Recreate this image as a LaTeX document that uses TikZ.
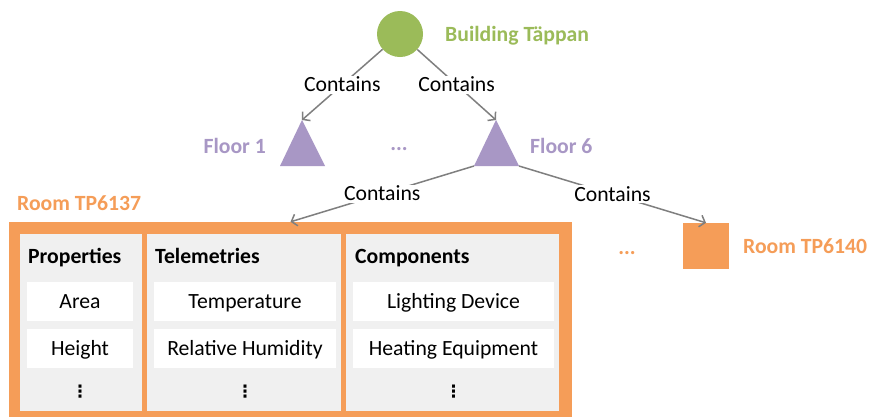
\documentclass[tikz,border=0pt]{standalone}
\usepackage{fontspec}
\setmainfont{Carlito}
\newfontfamily\dejavu{DejaVu Sans}
\usetikzlibrary{arrows.meta}
\definecolor{bgreen}{HTML}{9BBB59}
\definecolor{fpurple}{HTML}{A897C5}
\definecolor{rorange}{HTML}{F59D58}
\definecolor{pgray}{HTML}{F0F0F0}
\definecolor{cgray}{HTML}{7F7F7F}
\tikzset{
  txt/.style={font=\fontsize{21.7}{26}\selectfont, inner sep=0pt, text height=14pt, text depth=0pt},
  lbl/.style={txt, fill=white, inner sep=2pt},
  conn/.style={draw=cgray, line width=1.5pt, -{Straight Barb[length=5pt,width=12pt,line width=1.5pt]}},
  panel/.style={fill=pgray, inner sep=0pt, minimum height=177pt},
  itembox/.style={txt, fill=white, minimum height=39pt},
  head/.style={txt, font=\fontsize{21.7}{26}\selectfont\bfseries, anchor=west},
  vd/.style={inner sep=0pt, font=\dejavu\bfseries\fontsize{17}{18}\selectfont},
}
\begin{document}
\begin{tikzpicture}[x=1pt,y=-1pt]
\useasboundingbox (0,0) rectangle (872,416);
\fill[white] (0,0) rectangle (872,416);
% building
\node[circle, fill=bgreen, minimum size=46pt, inner sep=0pt] (bld) at (400,34) {};
\node[txt, font=\fontsize{21.7}{26}\selectfont\bfseries, text=bgreen, anchor=west] (bldl) at (445,34) {Building Täppan};
% floors
\coordinate (f1top) at (302,120);
\coordinate (f1l) at (280,166);
\coordinate (f1r) at (325,166);
\fill[fpurple] (f1top) -- (f1l) -- (f1r) -- cycle;
\coordinate (f6top) at (496,120);
\coordinate (f6l) at (474,166);
\coordinate (f6r) at (519,166);
\fill[fpurple] (f6top) -- (f6l) -- (f6r) -- cycle;
\node[txt, font=\fontsize{21.7}{26}\selectfont\bfseries, text=fpurple, anchor=east] (f1lab) at (266,146) {Floor 1};
\node[txt, font=\fontsize{21.7}{26}\selectfont\bfseries, text=fpurple, anchor=west] (f6lab) at (530,146) {Floor 6};
\node[txt, font=\fontsize{21.7}{26}\selectfont\bfseries, text=fpurple] (fdots) at (399,143) {...};
% room TP6137
\node[fill=rorange, inner sep=0pt, minimum width=563pt, minimum height=196pt] (room) at (290.5,320) {};
\node[txt, font=\fontsize{21.7}{26}\selectfont\bfseries, text=rorange, anchor=west] (roomlab) at (17,203) {Room TP6137};
\node[panel, minimum width=122pt] (p1) at (81,322.5) {};
\node[panel, minimum width=194pt] (p2) at (244,322.5) {};
\node[panel, minimum width=213pt] (p3) at (452.5,322.5) {};
\node[head] (h1) at (28,256) {Properties};
\node[head] (h2) at (155,256) {Telemetries};
\node[head] (h3) at (355,256) {Components};
\node[itembox, minimum width=106pt] (a1) at (80,301.5) {Area};
\node[itembox, minimum width=106pt] (a2) at (80,348.5) {Height};
\node[itembox, minimum width=182pt] (b1) at (245,301.5) {Temperature};
\node[itembox, minimum width=182pt] (b2) at (245,348.5) {Relative Humidity};
\node[itembox, minimum width=201pt] (c1) at (453.5,301.5) {Lighting Device};
\node[itembox, minimum width=201pt] (c2) at (453.5,348.5) {Heating Equipment};
\node[vd] (d1) at (80,392) {⋮};
\node[vd] (d2) at (245,392) {⋮};
\node[vd] (d3) at (453.5,392) {⋮};
% room TP6140
\node[fill=rorange, minimum size=46pt, inner sep=0pt] (r40) at (706,246) {};
\node[txt, font=\fontsize{21.7}{26}\selectfont\bfseries, text=rorange, anchor=west] (r40lab) at (743,246) {Room TP6140};
\node[txt, font=\fontsize{21.7}{26}\selectfont\bfseries, text=rorange] (rdots) at (627,247) {...};
% connectors
\draw[conn] (bld) -- node[lbl] {Contains} (f1top);
\draw[conn] (bld) -- node[lbl] {Contains} (f6top);
\draw[conn] (f6l) -- node[lbl] {Contains} (room.north);
\draw[conn] (f6r) -- node[lbl] {Contains} (r40.north);
\end{tikzpicture}
\end{document}
